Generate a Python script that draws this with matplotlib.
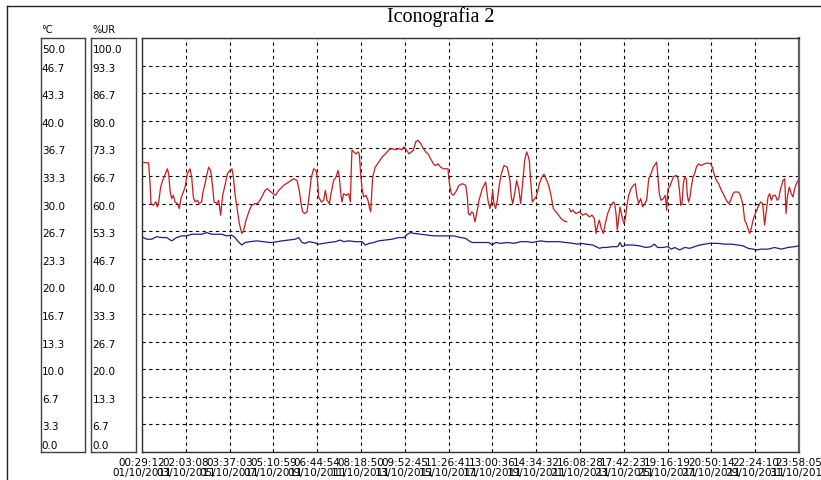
import numpy as np
import matplotlib
matplotlib.use("Agg")
import matplotlib.pyplot as plt
from matplotlib.lines import Line2D
from matplotlib.transforms import blended_transform_factory, offset_copy

# ---------------- data ----------------
title = "Iconografia 2"
temp_unit = "°C"
hum_unit = "%UR"

temp_ticks = ["0.0", "3.3", "6.7", "10.0", "13.3", "16.7", "20.0", "23.3",
              "26.7", "30.0", "33.3", "36.7", "40.0", "43.3", "46.7", "50.0"]
hum_ticks = ["0.0", "6.7", "13.3", "20.0", "26.7", "33.3", "40.0", "46.7",
             "53.3", "60.0", "66.7", "73.3", "80.0", "86.7", "93.3", "100.0"]

time_labels = ["00:29:12", "02:03:08", "03:37:03", "05:10:59", "06:44:54", "08:18:50",
               "09:52:45", "11:26:41", "13:00:36", "14:34:32", "16:08:28", "17:42:23",
               "19:16:19", "20:50:14", "22:24:10", "23:58:05"]
date_labels = ["01/10/2011", "03/10/2011", "05/10/2011", "07/10/2011", "09/10/2011",
               "11/10/2011", "13/10/2011", "15/10/2011", "17/10/2011", "19/10/2011",
               "21/10/2011", "23/10/2011", "25/10/2011", "27/10/2011", "29/10/2011",
               "31/10/2011"]
total_hours = 743.48  # 01/10 00:29:12 -> 31/10 23:58:05

# relative humidity (%UR), hours since start
hum_hours = [0.0, 7.5, 9.1, 10.2, 12.8, 15.8, 17.4, 18.9, 21.1, 23.4, 25.7, 28.7, 30.2, 31.7,
             33.6, 35.5, 37.3, 40.0, 42.2, 44.5, 46.8, 48.7, 51.3, 54.3, 56.2, 58.1, 60.0,
             62.6, 64.9, 67.5, 68.7, 71.3, 73.2, 75.4, 77.7, 80.0, 81.5, 84.5, 86.8, 89.0,
             91.3, 94.3, 96.6, 99.6, 101.8, 103.4, 105.2, 107.9, 110.1, 112.8, 114.7, 117.7,
             121.5, 124.1, 127.9, 130.5, 133.5, 136.5, 139.2, 141.8, 144.8,
             147.1, 150.9, 154.7, 160.3, 166.0, 171.6, 175.4, 178.0, 180.3, 181.8, 184.1,
             186.7, 188.6, 191.6, 194.3, 196.9, 198.4, 199.9, 202.9, 205.6, 207.5, 209.4,
             212.0, 214.3, 216.9, 219.5, 221.8, 223.3, 224.8, 226.3, 228.2, 230.9, 233.9,
             235.8, 236.9, 237.6, 239.5, 242.2, 244.4, 245.9, 247.4, 249.0, 250.8, 253.5,
             255.7, 257.2, 258.8, 259.5, 261.0, 264.0, 267.8, 271.6, 275.4, 279.1, 282.9,
             286.7, 290.4, 294.2,
             296.5, 299.5, 302.1, 304.8, 307.1, 309.7, 312.3, 315.4, 318.4, 321.0, 323.7,
             326.7, 329.7, 332.3, 335.0, 338.0, 341.0, 346.3, 347.0, 348.5, 350.1, 352.3,
             355.0, 358.7, 362.5, 366.3, 368.2, 369.3, 371.2, 373.1, 375.0, 376.8, 378.7,
             381.4, 385.1, 388.9, 391.5, 393.8, 395.3, 396.8, 398.3, 400.2, 402.1, 404.0,
             406.6, 409.7, 413.4, 416.4, 417.9, 419.5, 421.7, 424.0, 426.6, 428.5, 430.4,
             433.0, 435.3, 436.8, 438.3, 439.8, 441.7, 444.4,
             445.9, 447.7, 449.6, 452.6, 454.9, 457.2, 460.2, 462.8, 465.5, 468.5, 471.5,
             474.1, 477.9, 480.6, 482.0, 483.6, 485.5, 487.4, 491.1, 494.9, 498.7, 502.4,
             506.2, 509.2, 511.9, 513.8, 515.3, 517.5, 519.8, 522.1, 524.3, 527.0, 530.7,
             533.4, 534.9, 536.4, 537.9, 539.4, 540.9, 543.2, 545.4, 547.0, 548.5, 550.7,
             553.4, 556.0, 558.3, 559.8, 562.0, 564.3, 566.6, 568.8, 571.1, 573.4, 576.0,
             578.6, 580.9, 582.4, 583.5, 585.4, 587.3, 590.0, 592.2, 593.7,
             595.2, 597.1, 599.8, 602.0, 604.7, 606.6, 608.4, 609.6, 611.1, 612.6, 614.1,
             616.0, 617.1, 618.6, 620.1, 621.6, 623.5, 625.4, 627.3, 629.9, 632.9, 636.7,
             640.5, 643.5, 645.4, 647.3, 649.9, 652.6, 655.6, 658.6, 661.3, 663.9, 666.2,
             668.8, 670.7, 674.5, 676.3, 678.2, 680.1, 682.0, 683.9, 685.8, 687.7, 689.5,
             691.4, 694.1, 697.1, 700.1, 702.4, 704.6, 706.1, 708.4, 710.3, 712.2, 714.4,
             716.7, 718.9, 720.5, 722.7, 725.4, 727.3, 728.8, 730.3, 732.5, 734.8, 736.7,
             738.6, 740.5, 742.4, 743.5]
hum_values = [70.0, 69.8, 64.8, 60.0, 59.6, 60.4, 59.2, 60.4, 64.0, 65.6, 66.8, 68.4, 67.2, 63.2,
              61.2, 62.0, 60.4, 60.0, 58.8, 61.6, 62.8, 64.0, 67.2, 68.4, 66.4, 61.6, 60.4,
              60.8, 60.0, 60.4, 62.4, 64.8, 66.8, 68.8, 68.0, 64.0, 60.4, 60.0, 60.8, 57.2,
              62.0, 64.8, 67.2, 68.0, 68.4, 66.4, 62.4, 58.4, 55.2, 52.8, 53.2, 56.0,
              58.4, 59.6, 60.0, 60.0, 60.8, 62.0, 63.2, 63.6, 63.0,
              62.6, 62.0, 63.2, 64.4, 65.2, 66.0, 65.6, 63.2, 59.6, 58.0, 57.6,
              58.0, 60.8, 66.4, 68.4, 68.0, 66.4, 61.6, 60.4, 60.8, 63.2, 60.8,
              60.0, 62.8, 65.6, 66.4, 68.0, 66.4, 62.8, 60.4, 62.4, 62.0, 62.4,
              60.4, 68.8, 72.9, 72.5, 72.0, 72.5, 72.0, 67.2, 63.6, 61.6, 62.0,
              60.8, 59.2, 58.0, 60.8, 66.4, 68.8, 70.0, 71.2, 72.0, 72.9, 73.3,
              73.0, 73.3, 73.0,
              73.7, 72.9, 72.0, 72.5, 72.9, 74.9, 75.3, 74.5, 73.3, 72.5, 72.0,
              70.8, 69.6, 69.2, 69.6, 68.8, 68.4, 68.4, 66.4, 64.0, 62.4, 62.0,
              62.8, 64.4, 64.8, 64.4, 61.6, 57.6, 57.2, 58.0, 57.6, 55.6, 57.6,
              60.8, 63.6, 65.2, 60.8, 58.8, 60.0, 63.2, 60.0, 58.8, 60.8, 64.0,
              67.2, 69.2, 68.8, 65.6, 61.6, 60.0, 62.4, 65.6, 63.2, 60.0, 64.0,
              70.4, 72.5, 71.6, 70.4, 65.6, 60.4, 61.2,
              61.6, 62.8, 64.8, 66.4, 67.1, 66.0, 64.4, 62.0, 58.8, 58.0, 57.2,
              56.4, 55.8, 55.6, np.nan, 58.8, 58.0, 58.4, 57.6, 58.0, 57.2, 57.6,
              56.8, 57.2, 56.4, 52.8, 54.4, 56.0, 54.0, 52.8, 55.2, 57.6, 59.6,
              60.4, 60.0, 57.6, 53.6, 56.4, 59.2, 56.8, 55.2, 56.4, 59.2, 62.0,
              63.6, 64.4, 64.8, 62.0, 60.0, 61.2, 59.2, 60.0, 60.8, 66.0, 67.2,
              68.8, 69.6, 70.0, 67.2, 62.4, 60.8, 61.2, 62.0, 58.4,
              63.6, 64.0, 65.6, 66.6, 66.8, 66.0, 62.8, 59.6, 60.0, 64.8, 66.4,
              66.0, 62.0, 60.4, 61.6, 64.0, 66.4, 67.2, 68.8, 69.6, 69.2, 69.6,
              69.8, 69.6, 68.8, 67.2, 65.6, 64.8, 63.2, 62.0, 60.8, 60.0, 60.8,
              62.4, 62.8, 62.8, 62.4, 61.2, 59.6, 56.0, 55.2, 54.0, 52.8, 54.0,
              56.0, 57.6, 59.2, 60.4, 60.0, 54.8, 57.6, 61.6, 62.4, 60.8, 62.0,
              62.0, 60.8, 61.2, 63.6, 65.6, 66.0, 57.6, 61.6, 64.0, 62.4, 61.6,
              63.6, 64.8, 65.6, 65.6]

# temperature (°C), hours since start
temp_hours = [0.0, 5.3, 10.9, 16.6, 22.3, 27.9, 33.6, 39.2, 44.9, 50.5, 56.2, 61.9, 67.5, 73.2,
              78.8, 84.5, 90.2, 95.8, 101.5, 105.2, 109.0, 112.8, 116.6, 122.2, 129.8, 137.3,
              144.8, 147.1, 152.8, 158.4, 166.0, 173.5, 177.3, 181.1, 184.8, 188.6, 194.3,
              199.9, 205.6, 211.2, 218.8, 224.4, 228.2, 233.9, 241.4, 249.0, 252.7, 257.3,
              262.2, 267.8, 275.4, 282.9, 290.4, 296.5, 300.3, 304.0, 307.8, 315.4, 322.9,
              330.4, 338.0, 345.5, 353.1, 360.6, 366.3, 370.0, 373.8, 379.5, 387.0, 392.7,
              396.4, 400.2, 405.9, 413.4, 421.0, 428.5, 436.1, 441.7, 445.9, 451.5, 457.2,
              464.7, 472.3, 479.8, 487.4, 493.0, 496.8, 502.4, 510.0, 517.5, 521.3, 525.1,
              532.6, 538.3, 540.9, 543.2, 547.7, 555.2, 562.8, 570.3, 576.0, 579.8, 583.5,
              589.2, 595.2, 599.0, 602.8, 608.4, 614.1, 619.8, 625.4, 631.1, 636.7, 642.4,
              646.2, 651.8, 659.4, 666.9, 674.5, 680.1, 685.8, 691.4, 695.2, 700.9, 708.4,
              715.9, 723.5, 731.0, 738.6, 743.5]
temp_values = [26.0, 25.7, 25.7, 26.0, 25.9, 25.9, 25.5, 25.9, 26.1, 26.1, 26.3, 26.3, 26.3, 26.5,
               26.3, 26.3, 26.3, 26.1, 26.2, 25.9, 25.4, 25.0, 25.3, 25.4, 25.5, 25.4,
               25.3, 25.3, 25.4, 25.5, 25.6, 25.7, 25.9, 25.3, 25.2, 25.4, 25.3,
               25.1, 25.2, 25.3, 25.4, 25.6, 25.4, 25.5, 25.4, 25.4, 25.0, 25.2,
               25.3, 25.5, 25.6, 25.7, 25.9, 25.9, 26.3, 26.5, 26.4, 26.3, 26.2,
               26.1, 26.1, 26.1, 26.1, 25.9, 25.8, 25.5, 25.3, 25.3, 25.3, 25.3,
               25.0, 25.3, 25.2, 25.3, 25.2, 25.4, 25.4, 25.3, 25.4, 25.5, 25.4,
               25.4, 25.4, 25.3, 25.2, 25.1, 25.2, 25.1, 25.0, 24.6, 24.7, 24.7,
               24.8, 24.8, 25.3, 24.8, 25.0, 25.0, 24.9, 24.7, 24.8, 25.1, 24.7,
               24.7, 24.8, 24.5, 24.7, 24.4, 24.7, 24.6, 24.8, 25.0, 25.1, 25.2,
               25.2, 25.2, 25.1, 25.1, 25.0, 24.9, 24.6, 24.5, 24.4, 24.5, 24.5,
               24.7, 24.5, 24.7, 24.8, 24.9]

# ---------------- figure ----------------
W, H = 821, 481
fig = plt.figure(figsize=(W / 100, H / 100), dpi=100)
fig.patch.set_facecolor("white")
FONT = "DejaVu Sans"
FS = 7.5


def px_axes(x0, y0, x1, y1):
    return fig.add_axes([x0 / W, 1 - y1 / H, (x1 - x0) / W, (y1 - y0) / H])


# outer frame lines
fig.add_artist(Line2D([7 / W, 1.0], [1 - 7 / H, 1 - 7 / H], transform=fig.transFigure,
                      color="#202020", lw=1.0))
fig.add_artist(Line2D([7 / W, 7 / W], [1 - 7 / H, 0.0], transform=fig.transFigure,
                      color="#202020", lw=1.0))

# title
fig.text(441 / W, 1 - 17 / H, title, family="Liberation Serif", fontsize=14.5,
         ha="center", va="center", color="black")

# scale boxes
n_int = len(temp_ticks) - 1
tvals = np.linspace(0, 50, n_int + 1)
for (x0, x1, labels, unit) in [(40.5, 85, temp_ticks, temp_unit),
                               (91, 136, hum_ticks, hum_unit)]:
    bx = px_axes(x0, 39, x1, 453)
    bx.set_xlim(0, 1)
    bx.set_ylim(0, 50)
    bx.set_xticks([])
    bx.set_yticks([])
    for s in bx.spines.values():
        s.set_color("#404040")
        s.set_linewidth(1.0)
    tr = blended_transform_factory(bx.transAxes, bx.transData)
    for i, lab in enumerate(labels):
        if i == n_int:
            dy = -11
        elif i == 0:
            dy = 6.5
        else:
            dy = -2
        t = offset_copy(tr, fig=fig, x=0, y=dy * 0.72, units="points")
        bx.text(0.03, tvals[i], lab, transform=t, ha="left", va="center",
                family=FONT, fontsize=FS, color="black")
    fig.text((x0 + 1) / W, 1 - 30 / H, unit, family=FONT, fontsize=FS - 0.5,
             ha="left", va="center", color="black")

# main plot
ax = px_axes(142, 39, 799, 453)
ax.set_xlim(0, total_hours)
ax.set_ylim(0, 50)
xt = np.linspace(0, total_hours, len(time_labels))
ax.set_xticks(xt)
ax.set_yticks(tvals)
ax.tick_params(length=0, labelleft=False, labelbottom=False)
ax.grid(True, color="black", linestyle=(0, (3, 3)), linewidth=0.8)
ax.set_axisbelow(True)
for name, s in ax.spines.items():
    s.set_color("#303030")
    s.set_linewidth(1.0)
ax.spines["right"].set_color("#606060")
ax.spines["right"].set_linewidth(1.6)

ax.plot(temp_hours, temp_values, color="#1c1c8a", lw=0.9, zorder=3)

ax2 = ax.twinx()
ax2.set_ylim(0, 100)
ax2.set_yticks([])
ax2.plot(hum_hours, hum_values, color="#cc1a1a", lw=0.9, zorder=3)
for s in ax2.spines.values():
    s.set_visible(False)

# x labels (time + date)
trx = blended_transform_factory(ax.transData, ax.transAxes)
for x, tl, dl in zip(xt, time_labels, date_labels):
    t1 = offset_copy(trx, fig=fig, x=0, y=-10 * 0.72, units="points")
    t2 = offset_copy(trx, fig=fig, x=0, y=-20.5 * 0.72, units="points")
    ax.text(x, 0, tl, transform=t1, ha="center", va="center", family=FONT,
            fontsize=FS, color="black", clip_on=False)
    ax.text(x, 0, dl, transform=t2, ha="center", va="center", family=FONT,
            fontsize=FS, color="black", clip_on=False)

fig.savefig("out.png", dpi=100, facecolor="white")
